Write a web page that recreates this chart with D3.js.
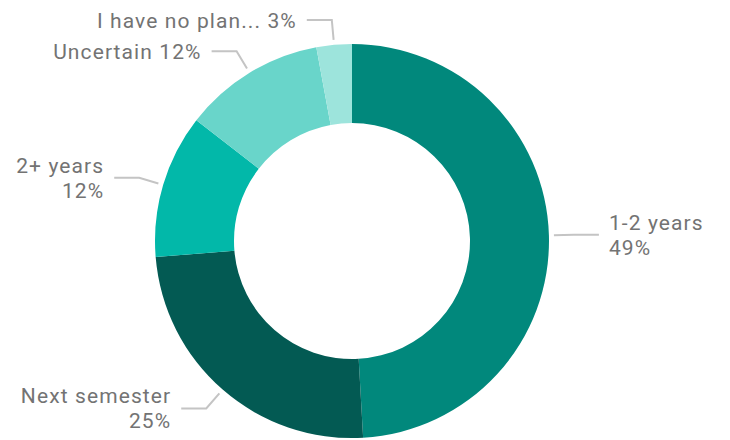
<!DOCTYPE html>
<html><head><meta charset="utf-8">
<script src="https://cdn.jsdelivr.net/npm/d3@7"></script>
<style>body{margin:0;background:#fff}svg{display:block}</style>
</head><body><svg id="c" width="730" height="440"></svg>
<script>
const categories = ["1-2 years", "Next semester", "2+ years", "Uncertain", "I have no plan..."];
const values = [49.1, 24.6, 11.8, 11.6, 2.9];
const colors = ["#01887C", "#035A53", "#02B8A9", "#69D5CA", "#9DE4DC"];

const svg = d3.select("#c");
const cx = 352, cy = 241, R = 197, r0 = 118;
const g = svg.append("g").attr("transform", `translate(${cx},${cy})`);
const data = categories.map((c, i) => ({cat: c, val: values[i], col: colors[i]}));
const total = d3.sum(values);
const pie = d3.pie().value(d => d.val).sort(null);
const arc = d3.arc().innerRadius(r0).outerRadius(R);
const arcs = pie(data);

g.selectAll("path.s").data(arcs).enter().append("path")
  .attr("d", arc).attr("fill", d => d.data.col);

const pt = (a, rr) => [Math.sin(a) * rr, -Math.cos(a) * rr];
arcs.forEach(d => {
  const a = (d.startAngle + d.endAngle) / 2;
  const p1 = pt(a, R + 5), p2 = pt(a, R + 25);
  const right = Math.sin(a) > 0;
  const p3 = [p2[0] + (right ? 25 : -25), p2[1]];
  g.append("polyline").attr("points", [p1, p2, p3].map(p => p.join(",")).join(" "))
    .attr("fill", "none").attr("stroke", "#c4c4c4").attr("stroke-width", 2);
  const pct = Math.round(d.data.val / total * 100) + "%";
  const tx = p3[0] + (right ? 10 : -10);
  const t = g.append("text").attr("x", tx).attr("text-anchor", right ? "start" : "end")
    .attr("font-family", "Roboto, sans-serif").attr("font-size", 21)
    .attr("letter-spacing", 1.1).attr("fill", "#737373");
  if (p2[1] < -150) {
    t.attr("y", p3[1] + 8).text(d.data.cat + " " + pct);
  } else {
    t.append("tspan").attr("x", tx).attr("y", p3[1] - 5).text(d.data.cat);
    t.append("tspan").attr("x", tx).attr("y", p3[1] + 20).text(pct);
  }
});
</script></body></html>
